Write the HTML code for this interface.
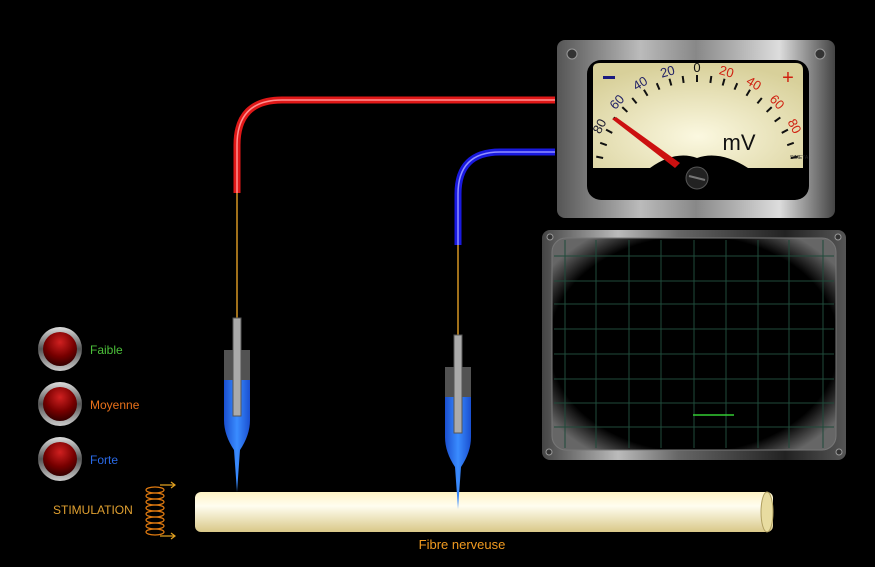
<!DOCTYPE html>
<html><head><meta charset="utf-8"><style>
html,body{margin:0;padding:0;background:#000;}
svg{display:block;}
text{font-family:"Liberation Sans",sans-serif;}
</style></head><body>
<svg width="875" height="567" viewBox="0 0 875 567" xmlns="http://www.w3.org/2000/svg">
<defs>
<linearGradient id="metal" x1="0" y1="0" x2="1" y2="0">
<stop offset="0" stop-color="#555"/><stop offset="0.3" stop-color="#bbb"/><stop offset="0.5" stop-color="#888"/><stop offset="0.8" stop-color="#ddd"/><stop offset="1" stop-color="#444"/></linearGradient>
<linearGradient id="metal2" x1="0" y1="0" x2="1" y2="0">
<stop offset="0" stop-color="#444"/><stop offset="0.25" stop-color="#bbb"/><stop offset="0.45" stop-color="#666"/><stop offset="0.8" stop-color="#222"/><stop offset="1" stop-color="#555"/></linearGradient>
<radialGradient id="face" cx="0.5" cy="0.7" r="0.7"><stop offset="0" stop-color="#fbf8e0"/><stop offset="1" stop-color="#d8d09a"/></radialGradient>
<linearGradient id="fib" x1="0" y1="0" x2="0" y2="1"><stop offset="0" stop-color="#fff3c4"/><stop offset="0.35" stop-color="#fffdf0"/><stop offset="1" stop-color="#d9c888"/></linearGradient>
<radialGradient id="led" cx="0.5" cy="0.3" r="0.7"><stop offset="0" stop-color="#d02020"/><stop offset="0.6" stop-color="#700"/><stop offset="1" stop-color="#300"/></radialGradient>
<linearGradient id="ring" x1="0" y1="0" x2="0" y2="1"><stop offset="0" stop-color="#ddd"/><stop offset="0.5" stop-color="#555"/><stop offset="1" stop-color="#ccc"/></linearGradient>
<linearGradient id="liq" x1="0" y1="0" x2="1" y2="0"><stop offset="0" stop-color="#1a4fd0"/><stop offset="0.5" stop-color="#3a8cff"/><stop offset="1" stop-color="#1a4fd0"/></linearGradient>
<radialGradient id="scr" cx="0.5" cy="0.5" r="0.62"><stop offset="0.82" stop-color="#000"/><stop offset="1" stop-color="#666"/></radialGradient>
</defs>

<!-- wires -->
<path d="M555,100 H282 Q237,100 237,145 V193" fill="none" stroke="#e01818" stroke-width="7"/>
<path d="M555,100 H282 Q237,100 237,145 V193" fill="none" stroke="#ff9090" stroke-width="1.5"/>
<path d="M555,152 H500 Q458,152 458,194 V245" fill="none" stroke="#1a1ae0" stroke-width="7"/>
<path d="M555,152 H500 Q458,152 458,194 V245" fill="none" stroke="#9090ff" stroke-width="1.5"/>
<line x1="237" y1="193" x2="237" y2="320" stroke="#a0701a" stroke-width="2"/>
<line x1="458" y1="245" x2="458" y2="337" stroke="#a0701a" stroke-width="2"/>

<!-- fibre -->
<rect x="195" y="492" width="578" height="40" rx="6" fill="url(#fib)"/>
<ellipse cx="767" cy="512" rx="6" ry="20" fill="#e8dca0" stroke="#b0a060"/>
<text x="462" y="549" fill="#f09a20" font-size="13" text-anchor="middle">Fibre nerveuse</text>

<!-- electrode 1 -->
<g>
<rect x="224" y="350" width="26" height="35" fill="#666" opacity="0.8"/>
<path d="M224,380 H250 V420 Q250,435 240,450 L237,492 L234,450 Q224,435 224,420 Z" fill="url(#liq)"/>
<rect x="233" y="318" width="8" height="98" fill="#aaa" stroke="#555"/>
</g>
<g>
<rect x="445" y="367" width="26" height="35" fill="#666" opacity="0.8"/>
<path d="M445,397 H471 V437 Q471,452 461,467 L458,509 L455,467 Q445,452 445,437 Z" fill="url(#liq)"/>
<rect x="454" y="335" width="8" height="98" fill="#aaa" stroke="#555"/>
</g>

<!-- LEDs -->
<g>
<circle cx="60" cy="349" r="22" fill="url(#ring)"/><circle cx="60" cy="349" r="17" fill="url(#led)"/>
<circle cx="60" cy="404" r="22" fill="url(#ring)"/><circle cx="60" cy="404" r="17" fill="url(#led)"/>
<circle cx="60" cy="459" r="22" fill="url(#ring)"/><circle cx="60" cy="459" r="17" fill="url(#led)"/>
</g>
<text x="90" y="354" fill="#4cc03a" font-size="12">Faible</text>
<text x="90" y="409" fill="#e8701a" font-size="12">Moyenne</text>
<text x="90" y="464" fill="#2a6ae8" font-size="12">Forte</text>
<text x="53" y="514" fill="#e0a030" font-size="12">STIMULATION</text>
<g fill="none" stroke="#e07a10" stroke-width="1.2">
<ellipse cx="155" cy="490" rx="9" ry="3"/><ellipse cx="155" cy="496" rx="9" ry="3"/><ellipse cx="155" cy="502" rx="9" ry="3"/><ellipse cx="155" cy="508" rx="9" ry="3"/><ellipse cx="155" cy="514" rx="9" ry="3"/><ellipse cx="155" cy="520" rx="9" ry="3"/><ellipse cx="155" cy="526" rx="9" ry="3"/><ellipse cx="155" cy="532" rx="9" ry="3"/>
</g>
<g stroke="#e0a020" fill="none" stroke-width="1.2"><path d="M160,485 H175 M171,482 L175,485 L171,488"/><path d="M160,536 H175 M171,533 L175,536 L171,539"/></g>

<!-- meter -->
<rect x="557" y="40" width="278" height="178" rx="8" fill="url(#metal)"/>
<rect x="587" y="60" width="222" height="140" rx="14" fill="#000"/>
<path d="M593,68 Q593,63 600,63 H796 Q803,63 803,70 V168 H748 Q720,150 697,158 Q675,150 650,168 H593 Z" fill="url(#face)"/>
<circle cx="572" cy="54" r="5" fill="#333" stroke="#999"/><circle cx="820" cy="54" r="5" fill="#333" stroke="#999"/>
<g stroke="#111" stroke-width="2">
<line x1="697" y1="82" x2="697" y2="75" transform="rotate(-62 697 178)"/>
<line x1="697" y1="82" x2="697" y2="75" transform="rotate(-54 697 178)"/>
<line x1="697" y1="82" x2="697" y2="75" transform="rotate(-46.5 697 178)"/>
<line x1="697" y1="82" x2="697" y2="75" transform="rotate(-39 697 178)"/>
<line x1="697" y1="82" x2="697" y2="75" transform="rotate(-31 697 178)"/>
<line x1="697" y1="82" x2="697" y2="75" transform="rotate(-23 697 178)"/>
<line x1="697" y1="82" x2="697" y2="75" transform="rotate(-15.5 697 178)"/>
<line x1="697" y1="82" x2="697" y2="75" transform="rotate(-8 697 178)"/>
<line x1="697" y1="82" x2="697" y2="75" transform="rotate(0 697 178)"/>
<line x1="697" y1="82" x2="697" y2="75" transform="rotate(8 697 178)"/>
<line x1="697" y1="82" x2="697" y2="75" transform="rotate(15.5 697 178)"/>
<line x1="697" y1="82" x2="697" y2="75" transform="rotate(23 697 178)"/>
<line x1="697" y1="82" x2="697" y2="75" transform="rotate(31 697 178)"/>
<line x1="697" y1="82" x2="697" y2="75" transform="rotate(39 697 178)"/>
<line x1="697" y1="82" x2="697" y2="75" transform="rotate(46.5 697 178)"/>
<line x1="697" y1="82" x2="697" y2="75" transform="rotate(54 697 178)"/>
<line x1="697" y1="82" x2="697" y2="75" transform="rotate(62 697 178)"/>
<line x1="697" y1="82" x2="697" y2="75" transform="rotate(-70 697 178)"/>
<line x1="697" y1="82" x2="697" y2="75" transform="rotate(70 697 178)"/>
<line x1="697" y1="82" x2="697" y2="75" transform="rotate(-78 697 178)"/>
<line x1="697" y1="82" x2="697" y2="75" transform="rotate(78 697 178)"/>
</g>
<g font-family="Liberation Serif,serif" font-size="13" text-anchor="middle">
<text x="697" y="72" fill="#223" transform="rotate(-62 697 178)">80</text>
<text x="697" y="72" fill="#226" transform="rotate(-46.5 697 178)">60</text>
<text x="697" y="72" fill="#226" transform="rotate(-31 697 178)">40</text>
<text x="697" y="72" fill="#226" transform="rotate(-15.5 697 178)">20</text>
<text x="697" y="72" fill="#111">0</text>
<text x="697" y="72" fill="#d02010" transform="rotate(15.5 697 178)">20</text>
<text x="697" y="72" fill="#d02010" transform="rotate(31 697 178)">40</text>
<text x="697" y="72" fill="#d02010" transform="rotate(46.5 697 178)">60</text>
<text x="697" y="72" fill="#d02010" transform="rotate(62 697 178)">80</text>
</g>
<rect x="603" y="76" width="12" height="3" fill="#1a1a80"/>
<text x="788" y="84" fill="#d02010" font-size="20" text-anchor="middle">+</text>
<text x="739" y="150" fill="#111" font-size="22" text-anchor="middle">mV</text>
<text x="790" y="159" fill="#222" font-size="5">SIMETA</text>
<polygon points="612,119 616,117 680,163 675,168" fill="#cc1010"/>
<circle cx="697" cy="178" r="11" fill="#222" stroke="#555"/>
<line x1="689" y1="176" x2="705" y2="180" stroke="#777" stroke-width="2"/>

<!-- oscilloscope -->
<rect x="542" y="230" width="304" height="230" rx="8" fill="url(#metal2)"/>
<rect x="552" y="238" width="284" height="212" rx="14" fill="url(#scr)" stroke="#777"/>
<g stroke="#1f4a3a" stroke-width="1">
<line x1="565" y1="240" x2="565" y2="448"/><line x1="596" y1="240" x2="596" y2="448"/><line x1="629" y1="240" x2="629" y2="448"/><line x1="661" y1="240" x2="661" y2="448"/><line x1="694" y1="240" x2="694" y2="448"/><line x1="726" y1="240" x2="726" y2="448"/><line x1="758" y1="240" x2="758" y2="448"/><line x1="789" y1="240" x2="789" y2="448"/><line x1="823" y1="240" x2="823" y2="448"/>
<line x1="554" y1="256" x2="834" y2="256"/><line x1="554" y1="281" x2="834" y2="281"/><line x1="554" y1="304" x2="834" y2="304"/><line x1="554" y1="329" x2="834" y2="329"/><line x1="554" y1="354" x2="834" y2="354"/><line x1="554" y1="379" x2="834" y2="379"/><line x1="554" y1="403" x2="834" y2="403"/><line x1="554" y1="427" x2="834" y2="427"/>
</g>
<line x1="693" y1="415" x2="734" y2="415" stroke="#3c3" stroke-width="1.5"/>
<circle cx="550" cy="237" r="3" fill="#333" stroke="#999"/><circle cx="838" cy="237" r="3" fill="#333" stroke="#999"/>
<circle cx="549" cy="452" r="3" fill="#333" stroke="#999"/><circle cx="839" cy="452" r="3" fill="#333" stroke="#999"/>
</svg>
</body></html>
